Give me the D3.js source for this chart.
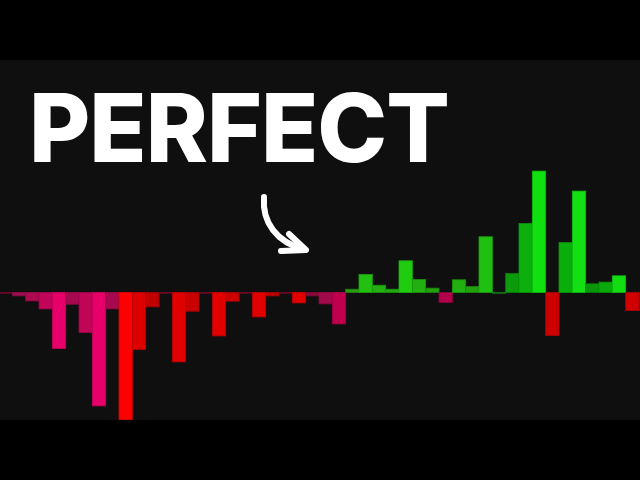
<!DOCTYPE html>
<html>
<head>
<meta charset="utf-8">
<script src="https://cdn.jsdelivr.net/npm/d3@7"></script>
<style>
  html, body { margin: 0; padding: 0; background: #000; }
  svg { display: block; }
</style>
</head>
<body>
<script>
// ---- data ----
const title = "PERFECT";
const barIndex = d3.range(48);
const barValues = [
  0, -3.3, -8.4, -16.4, -56, -11.7, -40, -113.4, -16.4, -127,
  -57, -14.4, 0, -69.4, -18.7, 0, -43.4, -8.7, 0, -24.4,
  -3.4, 0, -10.4, -3.4, -11.4, -31.4, 3.3, 18, 7.3, 3.3,
  31.7, 13, 4.4, -10, 12.7, 6, 55.7, 0, 19, 69,
  121.4, -43, 50, 101.4, 8.7, 10.4, 16.7, -18
];
const barColors = [
  "#7a0a2a", "#a00c50", "#ad0a52", "#c0045a", "#e8006a", "#a80850", "#c00458", "#e8006a", "#a80850", "#ff0000",
  "#dd0000", "#c00000", "#7a0a2a", "#e00000", "#c80000", "#7a0a2a", "#e00000", "#cc0000", "#7a0a2a", "#e00000",
  "#c00000", "#7a0a2a", "#e00000", "#8a0a3a", "#a00a4a", "#c0004e", "#2a9a10", "#22c010", "#22b010", "#22a810",
  "#20cc10", "#22b010", "#22a010", "#b0004a", "#22b010", "#22a010", "#20c010", "#1a8a1a", "#0a9a0a", "#0cb00c",
  "#10e010", "#cc0000", "#0aae0a", "#12e012", "#0a960a", "#0aaa0a", "#12dd12", "#d00000"
];

const W = 640, H = 480;
const svg = d3.select("body").append("svg").attr("width", W).attr("height", H);

// backgrounds
svg.append("rect").attr("x", 0).attr("y", 0).attr("width", W).attr("height", H).attr("fill", "#000");
svg.append("rect").attr("x", 0).attr("y", 60).attr("width", W).attr("height", 360).attr("fill", "#0f0f0f");

svg.append("clipPath").attr("id", "plot").append("rect")
  .attr("x", 0).attr("y", 60).attr("width", W).attr("height", 360);

// scales
const x = d3.scaleBand().domain(barIndex).range([-1, 639]).padding(0);
const y = d3.scaleLinear().domain([-130, 130]).range([422.5, 162.5]);

const g = svg.append("g").attr("clip-path", "url(#plot)");

// baseline
g.append("line")
  .attr("x1", 0).attr("x2", x(26))
  .attr("y1", y(0)).attr("y2", y(0))
  .attr("stroke", "#6a0a1e").attr("stroke-width", 1);

g.selectAll("rect.bar").data(barIndex).join("rect")
  .attr("class", "bar")
  .attr("x", i => x(i))
  .attr("width", x.bandwidth())
  .attr("y", i => Math.min(y(barValues[i]), y(0)))
  .attr("height", i => Math.max(Math.abs(y(barValues[i]) - y(0)), 0.8))
  .attr("fill", i => barColors[i])
  .attr("stroke", i => d3.color(barColors[i]).darker(0.5))
  .attr("stroke-width", 0.8);

// title
const tg = svg.append("g");
const t = tg.append("text")
  .attr("x", 0).attr("y", 0)
  .attr("font-family", "Inter, 'Open Sans', sans-serif")
  .attr("font-weight", 800)
  .attr("font-size", 95)
  .attr("letter-spacing", -1)
  .attr("fill", "#fff")
  .text(title);
const bb = t.node().getBBox();
const targetW = 420;
const sx = targetW / bb.width;
tg.attr("transform", `translate(${29 - bb.x * sx},162) scale(${sx},1)`);

// arrow
const arrow = svg.append("g")
  .attr("fill", "none").attr("stroke", "#fff")
  .attr("stroke-linecap", "round").attr("stroke-linejoin", "round");
arrow.append("path")
  .attr("d", "M264,197 C262,222 276,242 305,250")
  .attr("stroke-width", 6);
arrow.append("path")
  .attr("d", "M289,234 L306,250 L281,251")
  .attr("stroke-width", 6);
</script>
</body>
</html>
